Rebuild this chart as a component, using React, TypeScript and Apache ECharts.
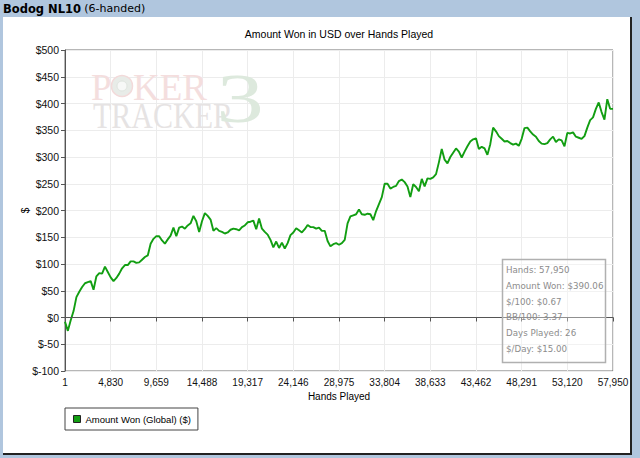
import React, { useEffect, useRef } from "react";
import * as echarts from "echarts";

// ---- data ----
const TICK_LABELS = [
  "1", "4,830", "9,659", "14,488", "19,317", "24,146", "28,975",
  "33,804", "38,633", "43,462", "48,291", "53,120", "57,950",
];
const TOTAL_HANDS = 57950;
const SAMPLE_COUNT = 193;
const HANDS = Array.from({ length: SAMPLE_COUNT }, (_, i) =>
  String(Math.floor(1 + (i * (TOTAL_HANDS - 1)) / (SAMPLE_COUNT - 1)))
);
const AMOUNT_WON = [
  -8, -25, -5, 12, 38, 48, 57, 64, 66, 68,
  52, 77, 83, 82, 95, 85, 75, 68, 74, 82,
  92, 98, 98, 105, 105, 102, 103, 108, 113, 116,
  138, 147, 152, 152, 144, 138, 146, 153, 168, 152,
  168, 170, 166, 172, 176, 190, 180, 160, 180, 195,
  190, 183, 162, 167, 162, 160, 157, 159, 164, 166,
  165, 163, 169, 172, 178, 179, 181, 165, 185, 166,
  160, 155, 145, 131, 142, 130, 140, 129, 139, 154,
  159, 167, 163, 159, 165, 173, 169, 169, 166, 168,
  162, 162, 143, 133, 137, 139, 136, 139, 145, 176,
  189, 191, 193, 202, 193, 192, 194, 193, 182, 199,
  212, 225, 250, 250, 241, 244, 246, 255, 258, 253,
  245, 225, 249, 244, 236, 259, 245, 260, 259, 262,
  268, 290, 315, 295, 288, 300, 308, 316, 310, 299,
  310, 320, 329, 333, 335, 315, 319, 316, 304, 324,
  355, 348, 339, 334, 329, 330, 326, 323, 325, 321,
  334, 354, 355, 348, 342, 338, 330, 325, 324, 326,
  333, 338, 328, 333, 331, 320, 345, 344, 346, 338,
  336, 334, 339, 355, 369, 374, 390, 402, 384, 370,
  408, 390, 390,
];
const SERIES_NAME = "Amount Won (Global) ($)";
const STATS = [
  "Hands: 57,950",
  "Amount Won: $390.06",
  "$/100: $0.67",
  "BB/100: 3.37",
  "Days Played: 26",
  "$/Day: $15.00",
];
const Y_MIN = -100;
const Y_MAX = 500;
const Y_STEP = 50;

const GREEN = "#129e12";
const SANS = "Liberation Sans";

export default function App() {
  const ref = useRef<HTMLDivElement>(null);

  useEffect(() => {
    if (!ref.current) return;
    const chart = echarts.init(ref.current, undefined, { renderer: "svg" });

    const statsTexts = STATS.map((s, k) => ({
      type: "text",
      x: 506,
      y: 270 + k * 15.8,
      z: 101,
      style: {
        text: s,
        fontSize: 8.7,
        fontFamily: "DejaVu Sans",
        fill: "#8c8c8c",
        align: "left",
        verticalAlign: "middle",
      },
    }));

    const wmPink = "#f4dede";

    chart.setOption({
      animation: false,
      grid: {
        left: 65,
        right: 27,
        top: 50,
        bottom: 87,
        show: true,
        borderColor: "#6e6e6e",
        borderWidth: 1,
        backgroundColor: "transparent",
      },
      legend: {
        left: 65,
        top: 408,
        orient: "horizontal",
        data: [SERIES_NAME],
        icon: "rect",
        itemWidth: 7,
        itemHeight: 7,
        padding: [6, 7, 6, 8],
        borderColor: "#444",
        borderWidth: 1,
        borderRadius: 0,
        itemStyle: { color: GREEN, borderColor: "#222", borderWidth: 1 },
        textStyle: { fontSize: 9.5, fontFamily: SANS, color: "#000" },
      },
      xAxis: {
        type: "category",
        data: HANDS,
        boundaryGap: false,
        name: "Hands Played",
        nameLocation: "middle",
        nameGap: 20,
        nameMoveOverlap: false,
        nameTextStyle: { fontSize: 10, fontFamily: SANS, color: "#000" },
        axisLine: { show: true, lineStyle: { color: "#555", width: 1 } },
        axisTick: { show: true, interval: 15, length: 4, lineStyle: { color: "#555" } },
        axisLabel: {
          interval: 15,
          margin: 6,
          fontSize: 10,
          fontFamily: SANS,
          color: "#111",
          formatter: (_v: string, idx: number) => TICK_LABELS[Math.round(idx / 16)] ?? "",
        },
        splitLine: { show: true, interval: 15, lineStyle: { color: "#ececec", width: 1 } },
      },
      yAxis: {
        type: "value",
        min: Y_MIN,
        max: Y_MAX,
        interval: Y_STEP,
        name: "$",
        nameLocation: "middle",
        nameGap: 35,
        nameMoveOverlap: false,
        nameRotate: 90,
        nameTextStyle: { fontSize: 10, fontFamily: SANS, color: "#000" },
        axisLine: { show: true, lineStyle: { color: "#555", width: 1 } },
        axisTick: { show: true, length: 4, lineStyle: { color: "#555" } },
        axisLabel: {
          margin: 6,
          fontSize: 10.5,
          fontFamily: SANS,
          color: "#111",
          formatter: (v: number) => (v < 0 ? "$-" + Math.abs(v) : "$" + v),
        },
        splitLine: { show: true, lineStyle: { color: "#ececec", width: 1 } },
      },
      series: [
        {
          name: SERIES_NAME,
          type: "line",
          data: AMOUNT_WON,
          showSymbol: false,
          symbol: "none",
          lineStyle: { color: GREEN, width: 1.9 },
          itemStyle: { color: GREEN },
          z: 3,
          markLine: {
            silent: true,
            symbol: "none",
            label: { show: false },
            lineStyle: { color: "#555", width: 1, type: "solid" },
            data: [{ yAxis: 0 }],
          },
        },
      ],
      graphic: [
        // title bar text
        {
          type: "text",
          x: 3,
          y: 8.5,
          style: {
            text: "{b|Bodog NL10} {n|(6-handed)}",
            rich: {
              b: {
                fontSize: 11.5,
                fontWeight: "bold",
                fontFamily: "DejaVu Sans",
                fill: "#000",
              },
              n: {
                fontSize: 11,
                fontFamily: "DejaVu Sans",
                fill: "#000",
              },
            },
            align: "left",
            verticalAlign: "middle",
          },
        },
        // chart title
        {
          type: "text",
          x: 339,
          y: 34,
          style: {
            text: "Amount Won in USD over Hands Played",
            fontSize: 10.5,
            fontFamily: SANS,
            fill: "#000",
            align: "center",
            verticalAlign: "middle",
          },
        },
        // watermark
        {
          type: "text",
          x: 91,
          y: 87,
          z: 1,
          silent: true,
          style: {
            text: "P",
            fontSize: 37,
            fontFamily: "Liberation Serif",
            fill: wmPink,
            align: "left",
            verticalAlign: "middle",
          },
        },
        {
          type: "text",
          x: 133,
          y: 87,
          z: 1,
          silent: true,
          style: {
            text: "KER",
            fontSize: 37,
            fontFamily: "Liberation Serif",
            fill: wmPink,
            align: "left",
            verticalAlign: "middle",
          },
        },
        {
          type: "circle",
          z: 1,
          silent: true,
          shape: { cx: 122, cy: 86, r: 10.5 },
          style: { fill: "#e8ece8", stroke: "#f2dada", lineWidth: 1.5 },
        },
        {
          type: "circle",
          z: 1,
          silent: true,
          shape: { cx: 122, cy: 86, r: 5 },
          style: { fill: "#f7f8f7", stroke: "#dfe5df", lineWidth: 1 },
        },
        {
          type: "text",
          x: 93,
          y: 116,
          z: 1,
          scaleY: 1.2,
          silent: true,
          style: {
            text: "TRACKER",
            fontSize: 30,
            fontFamily: "Liberation Serif",
            fill: "#e6e3e3",
            align: "left",
            verticalAlign: "middle",
          },
        },
        {
          type: "text",
          x: 240,
          y: 98,
          z: 1,
          scaleX: 1.35,
          silent: true,
          style: {
            text: "3",
            fontSize: 70,
            fontFamily: "Liberation Serif",
            fill: "#dde9dd",
            align: "center",
            verticalAlign: "middle",
          },
        },
        // stats box
        {
          type: "rect",
          z: 100,
          shape: { x: 502.5, y: 259.5, width: 103, height: 103 },
          style: { fill: "rgba(255,255,255,0.35)", stroke: "#b0b0b0", lineWidth: 1.5 },
        },
        ...statsTexts,
      ],
    });

    return () => chart.dispose();
  }, []);

  return (
    <div
      style={{
        position: "fixed",
        left: 0,
        top: 0,
        width: 640,
        height: 458,
        background: "#b0c6de",
        overflow: "hidden",
      }}
    >
      <div
        style={{
          position: "absolute",
          left: 3,
          top: 17,
          width: 627,
          height: 436,
          background: "#ffffff",
          borderRight: "2px solid #222",
          borderBottom: "2px solid #222",
        }}
      />
      <div
        ref={ref}
        style={{ position: "absolute", left: 0, top: 0, width: 640, height: 458 }}
      />
    </div>
  );
}
